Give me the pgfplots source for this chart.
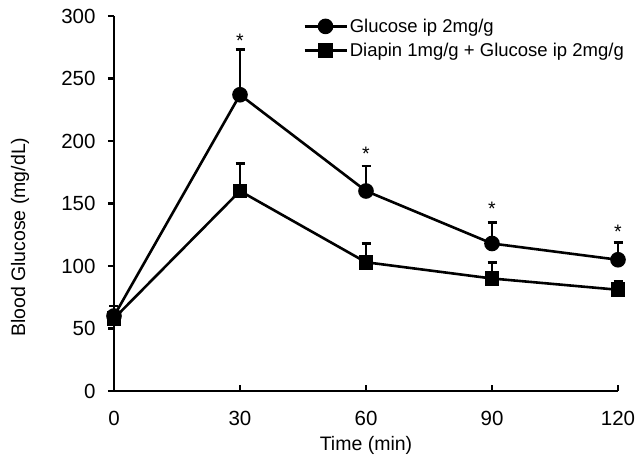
\documentclass[border=0pt]{standalone}
\usepackage{pgfplots}
\pgfplotsset{compat=1.18}
\usepackage{fontspec}
\setmainfont{Liberation Sans}

\begin{document}
\begin{tikzpicture}
\begin{axis}[
  at={(0,0)}, anchor=south west,
  scale only axis, width=504pt, height=375pt,
  xmin=0, xmax=120, ymin=0, ymax=300,
  axis lines=left, axis line style={-, line width=2.2pt, black},
  xtick={0,30,60,90,120}, ytick={0,50,...,300},
  tick align=inside, major tick length=6pt,
  tick style={line width=2.2pt, black},
  ytick style={xshift=-6pt},
  clip=false,
  /pgf/number format/assume math mode=true,
  tick label style={font=\fontsize{20.5}{24}\selectfont},
  xticklabel style={yshift=-17pt},
  yticklabel style={xshift=-15pt},
  xlabel={Time (min)}, ylabel={Blood Glucose (mg/dL)},
  every axis x label/.style={at={(axis description cs:0.5,-0.146)},anchor=center,font=\fontsize{19.5}{23}\selectfont},
  every axis y label/.style={at={(axis description cs:-0.1865,0.41)},anchor=center,rotate=90,font=\fontsize{19.5}{23}\selectfont},
  legend style={at={(axis description cs:0.375,0.998)}, anchor=north west, draw=none, fill=none,
    font=\fontsize{18.5}{22}\selectfont, inner sep=0pt, row sep=5pt},
  legend cell align=left,
  legend image code/.code={\draw[#1, mark repeat=2, mark phase=2] plot coordinates {(0pt,0pt)(21pt,0pt)(42pt,0pt)};},
]
\addplot[black, line width=2.6pt, mark=*, mark size=6.5pt, mark options={solid},
  error bars/.cd, y dir=plus, y explicit,
  error bar style={line width=2.6pt}, error mark=-, error mark options={rotate=90, black, line width=2.6pt, mark size=4.5pt}]
  coordinates {(0,60) +- (0,8) (30,237) +- (0,36) (60,160) +- (0,20) (90,118) +- (0,17) (120,105) +- (0,14)};
\addlegendentry{Glucose ip 2mg/g}
\addplot[black, line width=2.6pt, mark=square*, mark size=6pt, mark options={solid},
  error bars/.cd, y dir=plus, y explicit,
  error bar style={line width=2.6pt}, error mark=-, error mark options={rotate=90, black, line width=2.6pt, mark size=4.5pt}]
  coordinates {(0,58) +- (0,5) (30,160) +- (0,22) (60,103) +- (0,15) (90,90) +- (0,13) (120,81) +- (0,7)};
\addlegendentry{Diapin 1mg/g + Glucose ip 2mg/g}
\addplot[draw=none, mark=none, forget plot, nodes near coords={*},
  every node near coord/.append style={anchor=center, font=\fontsize{19.5}{23}\selectfont}]
  coordinates {(30,280) (60,190) (90,146) (120,127)};
\end{axis}
\pgfresetboundingbox
\path[use as bounding box] (-114pt,-81pt) rectangle (530pt,391pt);
\end{tikzpicture}
\end{document}
